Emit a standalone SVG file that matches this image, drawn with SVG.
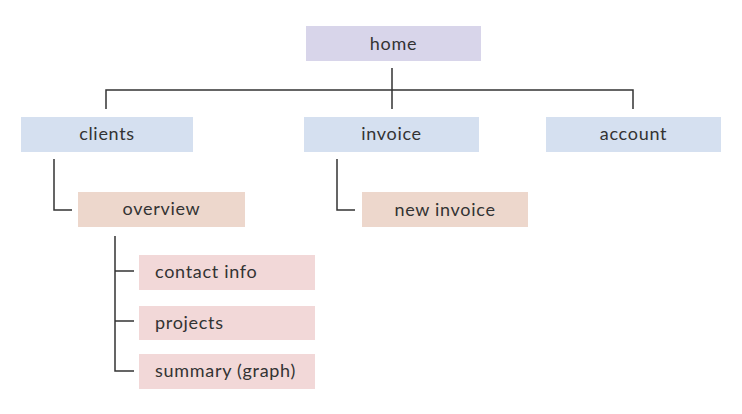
<svg xmlns="http://www.w3.org/2000/svg" width="742" height="414" viewBox="0 0 742 414">
<style>
text{font-family:Lato,"Liberation Sans",sans-serif;font-size:18px;letter-spacing:0.7px;fill:#333}
.c{text-anchor:middle}
.l1{fill:#d8d5ea}
.l2{fill:#d5e0f0}
.l3{fill:#edd7cc}
.l4{fill:#f2d8d8}
.conn{fill:none;stroke:#333;stroke-width:1.5}
</style>
<rect width="742" height="414" fill="#fff"/>
<g id="connectors" class="conn">
<path d="M392 68V109M106 109V90H633V109"/>
<path d="M54 159V210H72"/>
<path d="M337 159V210H355"/>
<path d="M115 236V371H134M115 271H134M115 321H134"/>
</g>
<g id="home"><rect class="l1" x="306" y="26" width="175" height="35"/><text class="c" x="393.5" y="49.5">home</text></g>
<g id="clients"><rect class="l2" x="21" y="117" width="172" height="35"/><text class="c" x="107" y="139.5">clients</text></g>
<g id="invoice"><rect class="l2" x="304" y="117" width="175" height="35"/><text class="c" x="391.5" y="139.5">invoice</text></g>
<g id="account"><rect class="l2" x="546" y="117" width="175" height="35"/><text class="c" x="633.5" y="139.5">account</text></g>
<g id="overview"><rect class="l3" x="78" y="192" width="167" height="35"/><text class="c" x="161.5" y="215">overview</text></g>
<g id="new-invoice"><rect class="l3" x="362" y="192" width="166" height="35"/><text class="c" x="445" y="215.5">new invoice</text></g>
<g id="contact-info"><rect class="l4" x="139" y="255" width="176" height="35"/><text x="155" y="278">contact info</text></g>
<g id="projects"><rect class="l4" x="139" y="306" width="176" height="34"/><text x="155" y="328.5">projects</text></g>
<g id="summary"><rect class="l4" x="139" y="354" width="176" height="35"/><text x="155" y="377">summary (graph)</text></g>
</svg>
